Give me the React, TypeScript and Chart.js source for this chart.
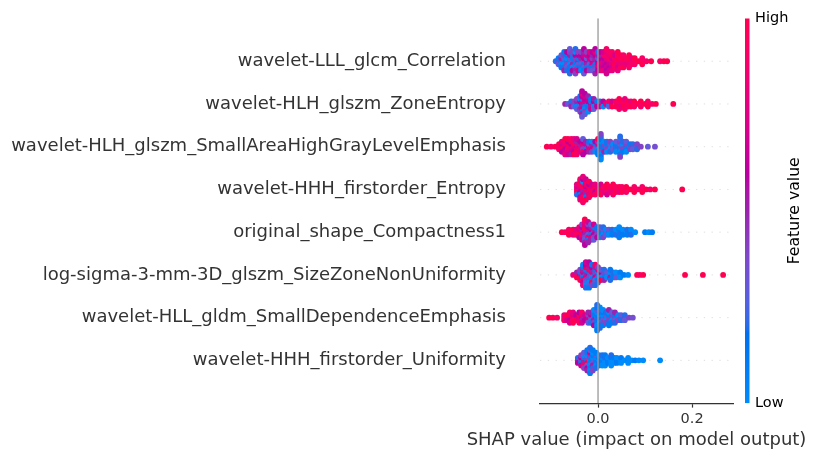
import React, { useEffect, useRef } from "react";
import { Chart, registerables } from "chart.js";

Chart.register(...registerables);

// Each column: [SHAP value, feature values (0 = low … 1 = high) of the samples sharing that SHAP value]
type Column = [number, number[]];

const featureNames = [
  "wavelet-LLL_glcm_Correlation",
  "wavelet-HLH_glszm_ZoneEntropy",
  "wavelet-HLH_glszm_SmallAreaHighGrayLevelEmphasis",
  "wavelet-HHH_firstorder_Entropy",
  "original_shape_Compactness1",
  "log-sigma-3-mm-3D_glszm_SizeZoneNonUniformity",
  "wavelet-HLL_gldm_SmallDependenceEmphasis",
  "wavelet-HHH_firstorder_Uniformity",
];

const rowCorrelation: Column[] = [
  [-0.09, [0.2]],
  [-0.084, [0.4, 0.1, 0.3]],
  [-0.078, [0.2, 0.5, 0.0, 0.3, 0.1]],
  [-0.072, [0.1, 0.3, 0.0, 0.4, 0.2, 0.1, 0.5]],
  [-0.066, [0.2, 0.0, 0.4, 0.1, 0.3, 0.6, 0.2]],
  [-0.06, [0.1, 0.3, 0.0, 0.5, 0.2, 0.4, 0.1, 0.3, 0.2]],
  [-0.054, [0.3, 0.1, 0.5, 0.2, 0.0, 0.4, 0.6]],
  [-0.048, [0.2, 0.4, 0.1, 0.6, 0.3, 0.0, 0.5, 0.2, 0.4]],
  [-0.042, [0.5, 0.2, 0.3, 0.6, 0.1, 0.4, 0.7]],
  [-0.036, [0.1, 0.5, 0.3, 0.6, 0.2, 0.4, 0.0]],
  [-0.03, [0.4, 0.6, 0.2, 0.7, 0.3, 0.5, 0.1, 0.6, 0.3]],
  [-0.024, [0.6, 0.3, 0.5, 0.7, 0.2, 0.4, 0.6]],
  [-0.018, [0.5, 0.7, 0.3, 0.6, 0.2, 0.8, 0.4]],
  [-0.012, [0.6, 0.4, 0.7, 0.5, 0.1, 0.6, 0.3]],
  [-0.006, [0.7, 0.5, 0.2, 0.6, 0.4, 0.8, 0.3, 0.6, 0.5]],
  [0.0, [0.6, 0.3, 0.7, 0.5, 0.8, 0.2, 0.6]],
  [0.006, [0.7, 0.6, 0.8, 0.5, 0.7, 0.6, 0.8]],
  [0.012, [0.8, 0.6, 0.7, 0.9, 0.6, 0.7, 0.8]],
  [0.018, [0.7, 0.8, 0.6, 0.9, 0.7, 0.8, 0.6, 0.9, 0.7]],
  [0.024, [0.8, 0.9, 0.7, 0.8, 0.6, 0.9, 0.7]],
  [0.03, [0.9, 0.7, 0.8, 1.0, 0.7, 0.9, 0.8]],
  [0.036, [0.8, 0.9, 1.0, 0.7, 0.9]],
  [0.042, [0.9, 1.0, 0.8, 0.9, 0.7, 1.0, 0.8]],
  [0.048, [1.0, 0.9, 0.8, 1.0, 0.9]],
  [0.054, [0.9, 1.0, 0.8, 0.9, 1.0]],
  [0.06, [1.0, 0.9, 0.8]],
  [0.066, [0.9, 1.0, 0.8, 1.0, 0.9]],
  [0.072, [1.0, 0.8, 0.9]],
  [0.078, [0.9, 1.0, 0.9]],
  [0.086, [1.0]],
  [0.094, [1.0, 0.9, 1.0]],
  [0.103, [0.9]],
  [0.113, [1.0]],
  [0.132, [0.9]],
  [0.14, [1.0]],
  [0.147, [1.0]],
];

const rowZoneEntropy: Column[] = [
  [-0.07, [0.5]],
  [-0.064, [0.3]],
  [-0.057, [0.4, 0.2, 0.5]],
  [-0.051, [0.1, 0.4, 0.3]],
  [-0.045, [0.2, 0.5, 0.0, 0.4, 0.3]],
  [-0.038, [0.1, 0.6, 0.3, 0.0, 0.5, 0.2, 0.4]],
  [-0.034, [0.6, 0.7, 0.5, 0.2, 0.7, 0.6, 0.1, 0.8, 0.5, 0.6, 0.3]],
  [-0.028, [0.5, 0.7, 0.2, 0.6, 0.0, 0.7, 0.4, 0.6, 0.3]],
  [-0.021, [0.3, 0.6, 0.1, 0.7, 0.2, 0.5, 0.0]],
  [-0.015, [0.6, 0.2, 0.5, 0.1, 0.7]],
  [-0.009, [0.2, 0.6, 0.0, 0.5, 0.3]],
  [-0.002, [0.7, 0.1, 0.6]],
  [0.004, [0.8, 0.2, 0.7]],
  [0.011, [0.9, 0.6, 0.0]],
  [0.017, [0.8]],
  [0.023, [0.1, 0.9, 0.3]],
  [0.03, [0.9, 0.7, 1.0]],
  [0.038, [0.2, 0.9, 1.0]],
  [0.045, [1.0, 0.9, 0.8, 1.0, 0.9]],
  [0.051, [0.9, 1.0, 0.8]],
  [0.057, [1.0, 0.9, 1.0, 0.8, 0.9]],
  [0.064, [0.9, 1.0, 0.9]],
  [0.07, [1.0, 0.8, 1.0]],
  [0.077, [0.9, 1.0, 0.9]],
  [0.085, [1.0]],
  [0.091, [0.9, 1.0, 0.9]],
  [0.1, [1.0]],
  [0.106, [1.0, 0.9, 1.0]],
  [0.115, [0.9]],
  [0.123, [1.0]],
  [0.16, [1.0]],
];

const rowSmallAreaHGLE: Column[] = [
  [-0.109, [1.0]],
  [-0.1, [0.9]],
  [-0.091, [1.0]],
  [-0.083, [0.8, 1.0, 0.9]],
  [-0.077, [0.9, 0.7, 1.0, 0.8, 0.6]],
  [-0.07, [1.0, 0.8, 0.6, 0.9, 0.7, 1.0, 0.8]],
  [-0.064, [0.7, 1.0, 0.9, 0.6, 0.8, 1.0, 0.7]],
  [-0.057, [0.9, 0.6, 0.8, 1.0, 0.7, 0.9, 0.5]],
  [-0.051, [0.8, 1.0, 0.7, 0.9, 0.6, 0.8, 1.0]],
  [-0.045, [0.6, 0.9, 0.8, 0.5, 1.0, 0.7, 0.9]],
  [-0.038, [0.7, 0.5, 0.9, 0.6, 0.8]],
  [-0.032, [0.5, 0.8, 0.4, 0.6, 0.9, 0.3, 0.6]],
  [-0.026, [0.4, 0.7, 0.2, 0.5, 0.6]],
  [-0.019, [0.6, 0.3, 0.8, 0.1, 0.5]],
  [-0.013, [0.2, 0.5, 0.7, 0.0, 0.4]],
  [-0.006, [0.9, 0.1, 0.3, 0.6, 0.0]],
  [0.0, [0.1, 0.8, 0.0, 0.4, 0.2, 1.0, 0.1]],
  [0.006, [0.0, 0.1, 0.2, 0.0, 0.3, 0.1, 0.0, 0.2, 0.1, 0.4, 0.0]],
  [0.013, [0.2, 0.4, 0.1, 0.0, 0.5]],
  [0.019, [0.3, 0.1, 0.4, 0.2, 0.0]],
  [0.026, [0.1, 0.3, 0.0, 0.4, 0.2]],
  [0.032, [0.2, 0.0, 0.3]],
  [0.038, [0.4, 0.1, 0.2, 0.3, 0.0]],
  [0.047, [0.1, 0.3, 0.2, 0.4, 0.0, 0.3, 0.1, 0.2, 0.4]],
  [0.053, [0.3, 0.0, 0.4, 0.2, 0.1]],
  [0.06, [0.2, 0.4, 0.1, 0.3, 0.0]],
  [0.068, [0.3, 0.1, 0.4]],
  [0.074, [0.4, 0.2, 0.3]],
  [0.083, [0.3, 0.4, 0.2]],
  [0.091, [0.4]],
  [0.106, [0.3]],
  [0.121, [0.35]],
];

const rowEntropy: Column[] = [
  [-0.045, [0.9, 0.7, 1.0, 0.8, 0.2]],
  [-0.038, [1.0, 0.8, 0.6, 0.9, 0.1, 1.0, 0.7, 0.9, 0.8]],
  [-0.032, [0.8, 0.9, 0.5, 1.0, 0.7, 0.0, 0.9, 0.6, 1.0, 0.8, 0.9]],
  [-0.026, [0.9, 0.6, 1.0, 0.8, 0.5, 0.9, 0.1, 0.7, 1.0]],
  [-0.019, [0.7, 1.0, 0.9, 0.6, 0.8, 1.0, 0.9]],
  [-0.013, [1.0, 0.8, 0.9, 0.7, 1.0]],
  [-0.006, [0.9, 1.0, 0.6, 0.8, 0.9]],
  [0.0, [1.0, 0.8, 0.9]],
  [0.006, [0.9, 1.0, 0.8, 0.7, 1.0]],
  [0.013, [1.0, 0.9, 0.8]],
  [0.019, [0.8, 1.0, 0.9, 1.0, 0.7]],
  [0.026, [1.0, 0.9, 0.8]],
  [0.032, [0.9, 1.0, 0.8, 1.0, 0.9]],
  [0.038, [1.0, 0.9, 1.0]],
  [0.045, [0.9, 1.0, 0.8]],
  [0.051, [1.0, 0.9, 1.0]],
  [0.06, [0.9, 1.0, 0.9]],
  [0.068, [1.0]],
  [0.077, [1.0, 0.9, 1.0]],
  [0.085, [0.9]],
  [0.094, [1.0, 0.9, 1.0]],
  [0.102, [1.0]],
  [0.111, [0.9]],
  [0.121, [1.0]],
  [0.179, [1.0]],
];

const rowCompactness: Column[] = [
  [-0.077, [1.0]],
  [-0.07, [0.9]],
  [-0.062, [1.0, 0.9, 1.0]],
  [-0.053, [0.9, 1.0, 0.8]],
  [-0.047, [1.0, 0.8, 0.9]],
  [-0.04, [0.9, 0.7, 1.0, 0.8, 0.6]],
  [-0.034, [0.8, 0.5, 1.0, 0.6, 0.9, 0.4, 0.7]],
  [-0.028, [0.6, 0.9, 0.5, 1.0, 0.4, 0.7, 0.3, 0.8, 0.5, 1.0, 0.6]],
  [-0.021, [0.5, 0.8, 0.3, 0.6, 0.9, 0.4, 0.2, 0.7, 0.5]],
  [-0.015, [0.4, 0.6, 0.2, 0.5, 0.8, 0.3, 0.5]],
  [-0.009, [0.3, 0.5, 0.6, 0.2, 0.4, 0.7, 0.3]],
  [-0.002, [0.5, 0.2, 0.4, 0.1, 0.6]],
  [0.004, [0.2, 0.4, 0.1, 0.3, 0.0]],
  [0.011, [0.1, 0.3, 0.0, 0.2, 0.4]],
  [0.017, [0.2, 0.0, 0.3]],
  [0.023, [0.1, 0.3, 0.0]],
  [0.03, [0.0, 0.2, 0.1]],
  [0.038, [0.1, 0.0, 0.2]],
  [0.045, [0.0, 0.1, 0.2, 0.0, 0.1]],
  [0.053, [0.1, 0.0, 0.1]],
  [0.062, [0.0, 0.2, 0.1]],
  [0.07, [0.1, 0.0, 0.2]],
  [0.079, [0.0]],
  [0.1, [0.1]],
  [0.108, [0.0]],
  [0.115, [0.1]],
];

const rowSizeZoneNU: Column[] = [
  [-0.053, [0.8]],
  [-0.045, [0.9, 0.5, 1.0]],
  [-0.038, [0.6, 0.2, 0.9, 0.4, 1.0]],
  [-0.032, [0.3, 0.7, 0.1, 0.5, 0.9, 0.2, 0.6, 0.0, 0.8]],
  [-0.026, [0.2, 0.5, 0.8, 0.1, 0.4, 1.0, 0.3, 0.6, 0.0, 0.7, 0.2]],
  [-0.019, [0.6, 0.1, 0.4, 0.9, 0.2, 0.5, 0.0, 0.7, 0.3, 0.6, 0.1]],
  [-0.013, [0.3, 0.8, 0.0, 0.5, 0.2, 0.6, 1.0, 0.1, 0.4]],
  [-0.006, [0.1, 0.4, 0.7, 0.2, 0.0, 0.5, 0.3, 0.9, 0.2]],
  [0.0, [0.5, 0.0, 0.3, 0.8, 0.1, 0.4, 0.2]],
  [0.006, [0.2, 0.6, 0.0, 0.3, 1.0]],
  [0.013, [0.0, 0.4, 0.1, 0.2, 0.5]],
  [0.019, [0.1, 0.3, 0.0]],
  [0.026, [0.3, 0.0, 0.5, 0.1, 0.2]],
  [0.032, [0.0, 0.2, 0.1]],
  [0.038, [0.1, 0.0, 0.3]],
  [0.047, [0.0, 0.1, 0.0]],
  [0.055, [0.1]],
  [0.064, [0.0]],
  [0.083, [1.0]],
  [0.089, [0.9]],
  [0.096, [1.0]],
  [0.185, [1.0]],
  [0.223, [1.0]],
  [0.266, [1.0]],
];

const rowSmallDependence: Column[] = [
  [-0.104, [1.0]],
  [-0.096, [1.0]],
  [-0.087, [0.9]],
  [-0.072, [1.0, 0.8, 0.9]],
  [-0.066, [0.9, 1.0, 0.7]],
  [-0.06, [0.8, 1.0, 0.6, 0.9, 0.7]],
  [-0.053, [1.0, 0.7, 0.9, 0.8, 1.0]],
  [-0.047, [0.9, 0.6, 1.0]],
  [-0.04, [0.7, 1.0, 0.8, 0.6, 0.9]],
  [-0.034, [0.6, 0.8, 0.5, 0.9, 0.7]],
  [-0.028, [0.5, 0.7, 0.6]],
  [-0.021, [0.6, 0.4, 0.7, 0.5, 0.3]],
  [-0.015, [0.4, 0.6, 0.3, 0.5, 0.2]],
  [-0.009, [0.3, 0.1, 0.5, 0.2, 0.4, 0.0, 0.6]],
  [-0.002, [0.0, 0.1, 0.2, 0.0, 0.1, 0.3, 0.0, 0.1, 0.0, 0.2, 0.1]],
  [0.004, [0.1, 0.0, 0.2, 0.1, 0.0, 0.3, 0.1, 0.0, 0.2]],
  [0.011, [0.2, 0.0, 0.3, 0.1, 0.4, 0.0, 0.1]],
  [0.017, [0.1, 0.3, 0.0, 0.2, 0.4]],
  [0.023, [0.3, 0.1, 0.4, 0.0, 0.2, 0.5, 0.1]],
  [0.03, [0.2, 0.4, 0.0, 0.3, 0.1]],
  [0.036, [0.4, 0.1, 0.3, 0.5, 0.2]],
  [0.043, [0.3, 0.0, 0.4]],
  [0.049, [0.1, 0.3, 0.2]],
  [0.057, [0.4, 0.2, 0.3]],
  [0.066, [0.4]],
  [0.074, [0.35]],
];

const rowUniformity: Column[] = [
  [-0.043, [0.5, 0.2, 0.6]],
  [-0.036, [0.3, 0.6, 0.1, 0.4, 0.7]],
  [-0.03, [1.0, 0.2, 0.5, 0.0, 0.9, 0.3, 0.4]],
  [-0.023, [0.1, 0.4, 1.0, 0.0, 0.3, 0.2, 0.6, 0.1, 0.5]],
  [-0.017, [0.0, 0.2, 0.1, 0.4, 0.0, 0.7, 0.1, 0.3, 0.0, 0.2, 0.1]],
  [-0.011, [0.1, 0.0, 0.3, 0.1, 0.5, 0.0, 0.2, 0.1, 0.4]],
  [-0.004, [0.2, 0.0, 0.1, 0.3, 0.0, 0.1, 0.2]],
  [0.002, [0.0, 0.1, 0.2, 0.0, 0.1]],
  [0.009, [0.1, 0.0, 0.1, 0.2, 0.0]],
  [0.015, [0.0, 0.2, 0.0, 0.1, 0.0]],
  [0.021, [0.1, 0.0, 0.1]],
  [0.028, [0.0, 0.1, 0.0, 0.2, 0.0]],
  [0.034, [0.0, 0.1, 0.0]],
  [0.04, [0.1, 0.0, 0.1]],
  [0.049, [0.0, 0.1, 0.0]],
  [0.057, [0.0]],
  [0.064, [0.1, 0.0, 0.0]],
  [0.072, [0.0]],
  [0.079, [0.1]],
  [0.087, [0.0]],
  [0.096, [0.0]],
  [0.132, [0.0]],
];

const rowsTopToBottom: Column[][] = [
  rowCorrelation,
  rowZoneEntropy,
  rowSmallAreaHGLE,
  rowEntropy,
  rowCompactness,
  rowSizeZoneNU,
  rowSmallDependence,
  rowUniformity,
];

const xMin = -0.1234;
const xMax = 0.287;
const xTickValues = [0.0, 0.2];
const xTickLabels = ["0.0", "0.2"];
const xTitle = "SHAP value (impact on model output)";
const colorbarTitle = "Feature value";
const colorbarHigh = "High";
const colorbarLow = "Low";

const FONT = "'DejaVu Sans', sans-serif";

// ---- SHAP "red_blue" colormap (LCH interpolation) ----
function lchToRgb(l: number, c: number, h: number): [number, number, number] {
  const a = c * Math.cos(h);
  const b = c * Math.sin(h);
  const fy = (l + 16) / 116;
  const fx = a / 500 + fy;
  let fz = fy - b / 200;
  if (fz < 0) fz = 0;
  const finv = (t: number) => (t > 0.2068966 ? t * t * t : (t - 16 / 116) / 7.787);
  const X = finv(fx) * 0.95047;
  const Y = finv(fy) * 1.0;
  const Z = finv(fz) * 1.08883;
  const lin = [
    3.24048134 * X - 1.53715152 * Y - 0.49853633 * Z,
    -0.96925495 * X + 1.87599 * Y + 0.04155593 * Z,
    0.05564664 * X - 0.20404134 * Y + 1.05731107 * Z,
  ];
  const g = lin.map((v) => {
    const s = v > 0.0031308 ? 1.055 * Math.pow(v, 1 / 2.4) - 0.055 : 12.92 * v;
    return Math.min(1, Math.max(0, s));
  });
  return [g[0], g[1], g[2]];
}

const cmapSamples: [number, number, number][] = (() => {
  const n = 100;
  const blue = [54, 70, 4.6588];
  const red = [54, 90, 0.35470565 + 2 * Math.PI];
  const lMid = 40;
  const half = n / 2;
  const out: [number, number, number][] = [];
  for (let i = 0; i < n; i++) {
    const l =
      i < half
        ? blue[0] + (lMid - blue[0]) * (i / (half - 1))
        : lMid + (red[0] - lMid) * ((i - half) / (half - 1));
    const c = blue[1] + (red[1] - blue[1]) * (i / (n - 1));
    const h = blue[2] + (red[2] - blue[2]) * (i / (n - 1));
    out.push(lchToRgb(l, c, h));
  }
  return out;
})();

function redBlue(t: number): string {
  const tt = Math.min(1, Math.max(0, t)) * (cmapSamples.length - 1);
  const i0 = Math.floor(tt);
  const i1 = Math.min(cmapSamples.length - 1, i0 + 1);
  const f = tt - i0;
  const c = [0, 1, 2].map((k) =>
    Math.round(255 * (cmapSamples[i0][k] * (1 - f) + cmapSamples[i1][k] * f))
  );
  return `rgb(${c[0]},${c[1]},${c[2]})`;
}

// ---- beeswarm layout (as in shap's summary plot) ----
function beeswarm(columns: Column[], pos: number) {
  const shaps: number[] = [];
  const feats: number[] = [];
  columns.forEach(([v, fs]) => fs.forEach((f) => { shaps.push(v); feats.push(f); }));
  const N = shaps.length;
  const nbins = 100;
  const mn = Math.min(...shaps);
  const mx = Math.max(...shaps);
  const quant = shaps.map((s) => Math.round((nbins * (s - mn)) / (mx - mn + 1e-8)));
  const inds = shaps.map((_, i) => i).sort((a, b) => quant[a] - quant[b] || a - b);
  const ys = new Array(N).fill(0);
  let layer = 0;
  let lastBin = -1;
  for (const ind of inds) {
    if (quant[ind] !== lastBin) layer = 0;
    ys[ind] = Math.ceil(layer / 2) * ((layer % 2) * 2 - 1);
    layer += 1;
    lastBin = quant[ind];
  }
  const maxY = Math.max(...ys.map((y) => y + 1));
  const scale = 0.9 * (0.4 / maxY);
  return {
    data: shaps.map((s, i) => ({ x: s, y: pos + ys[i] * scale })),
    colors: feats.map((f) => redBlue(f)),
  };
}

const decorPlugin = {
  id: "shapDecor",
  beforeDatasetsDraw(chart: any) {
    const { ctx, chartArea, scales } = chart;
    const y = scales.y;
    ctx.save();
    ctx.strokeStyle = "#cccccc";
    ctx.lineWidth = 0.65;
    ctx.setLineDash([1.3, 6.5]);
    const n = featureNames.length;
    featureNames.forEach((_, i) => {
      const py = y.getPixelForValue(n - 1 - i);
      ctx.beginPath();
      ctx.moveTo(chartArea.left, py);
      ctx.lineTo(chartArea.right, py);
      ctx.stroke();
    });
    ctx.restore();
  },
  afterDatasetsDraw(chart: any) {
    const { ctx, chartArea, scales } = chart;
    const x = scales.x;
    const y = scales.y;
    const n = featureNames.length;
    ctx.save();
    // zero line
    const x0 = x.getPixelForValue(0);
    ctx.strokeStyle = "#999999";
    ctx.lineWidth = 1.3;
    ctx.beginPath();
    ctx.moveTo(x0, chartArea.top);
    ctx.lineTo(x0, chartArea.bottom);
    ctx.stroke();

    // feature labels
    ctx.fillStyle = "#333333";
    ctx.font = `18px ${FONT}`;
    ctx.textAlign = "right";
    ctx.textBaseline = "middle";
    featureNames.forEach((name, i) => {
      ctx.fillText(name, chartArea.left - 34, y.getPixelForValue(n - 1 - i));
    });

    // x axis title
    ctx.font = `18px ${FONT}`;
    ctx.textAlign = "center";
    ctx.textBaseline = "middle";
    ctx.fillText(xTitle, (chartArea.left + chartArea.right) / 2, chartArea.bottom + 37);

    // colorbar
    const cbX = chartArea.right + 12;
    const cbW = 4.5;
    const grad = ctx.createLinearGradient(0, chartArea.bottom, 0, chartArea.top);
    cmapSamples.forEach((c, i) => {
      grad.addColorStop(
        i / (cmapSamples.length - 1),
        `rgb(${Math.round(c[0] * 255)},${Math.round(c[1] * 255)},${Math.round(c[2] * 255)})`
      );
    });
    ctx.fillStyle = grad;
    ctx.fillRect(cbX, chartArea.top, cbW, chartArea.bottom - chartArea.top);

    ctx.fillStyle = "#000000";
    ctx.font = `14.5px ${FONT}`;
    ctx.textAlign = "left";
    ctx.textBaseline = "middle";
    ctx.fillText(colorbarHigh, cbX + 10, chartArea.top);
    ctx.fillText(colorbarLow, cbX + 10, chartArea.bottom);

    ctx.font = `15.7px ${FONT}`;
    ctx.translate(795, (chartArea.top + chartArea.bottom) / 2);
    ctx.rotate(-Math.PI / 2);
    ctx.textAlign = "center";
    ctx.textBaseline = "middle";
    ctx.fillText(colorbarTitle, 0, 0);
    ctx.restore();
  },
};

export default function App() {
  const canvasRef = useRef<HTMLCanvasElement | null>(null);

  useEffect(() => {
    if (!canvasRef.current) return;
    const n = rowsTopToBottom.length;
    const datasets = rowsTopToBottom.map((cols, i) => {
      const { data, colors } = beeswarm(cols, n - 1 - i);
      return {
        label: featureNames[i],
        data,
        pointBackgroundColor: colors,
        pointBorderWidth: 0,
        pointRadius: 2.9,
        pointHoverRadius: 2.9,
        showLine: false,
      };
    });

    const chart = new Chart(canvasRef.current, {
      type: "scatter",
      data: { datasets },
      options: {
        animation: false,
        responsive: false,
        events: [],
        layout: { padding: { left: 540, right: 80, top: 18.5, bottom: 28 } },
        plugins: { legend: { display: false }, tooltip: { enabled: false } },
        scales: {
          x: {
            type: "linear",
            min: xMin,
            max: xMax,
            afterBuildTicks: (axis: any) => {
              axis.ticks = xTickValues.map((v) => ({ value: v }));
            },
            ticks: {
              callback: (v: any) => {
                const idx = xTickValues.findIndex((t) => Math.abs(t - Number(v)) < 1e-9);
                return idx >= 0 ? xTickLabels[idx] : "";
              },
              color: "#333333",
              font: { family: FONT, size: 14.5 },
              padding: 3,
              maxRotation: 0,
            },
            grid: {
              display: true,
              drawOnChartArea: false,
              drawTicks: true,
              tickLength: 4.5,
              tickColor: "#333333",
              tickWidth: 1.2,
            },
            border: { display: true, color: "#333333", width: 1.2 },
            title: { display: false },
          },
          y: {
            type: "linear",
            min: -1,
            max: n,
            display: false,
          },
        },
      },
      plugins: [decorPlugin],
    } as any);

    return () => chart.destroy();
  }, []);

  return (
    <div style={{ position: "absolute", left: 0, top: 0, width: 813, height: 459, background: "#fff" }}>
      <canvas ref={canvasRef} width={813} height={459} style={{ display: "block", width: 813, height: 459 }} />
    </div>
  );
}
